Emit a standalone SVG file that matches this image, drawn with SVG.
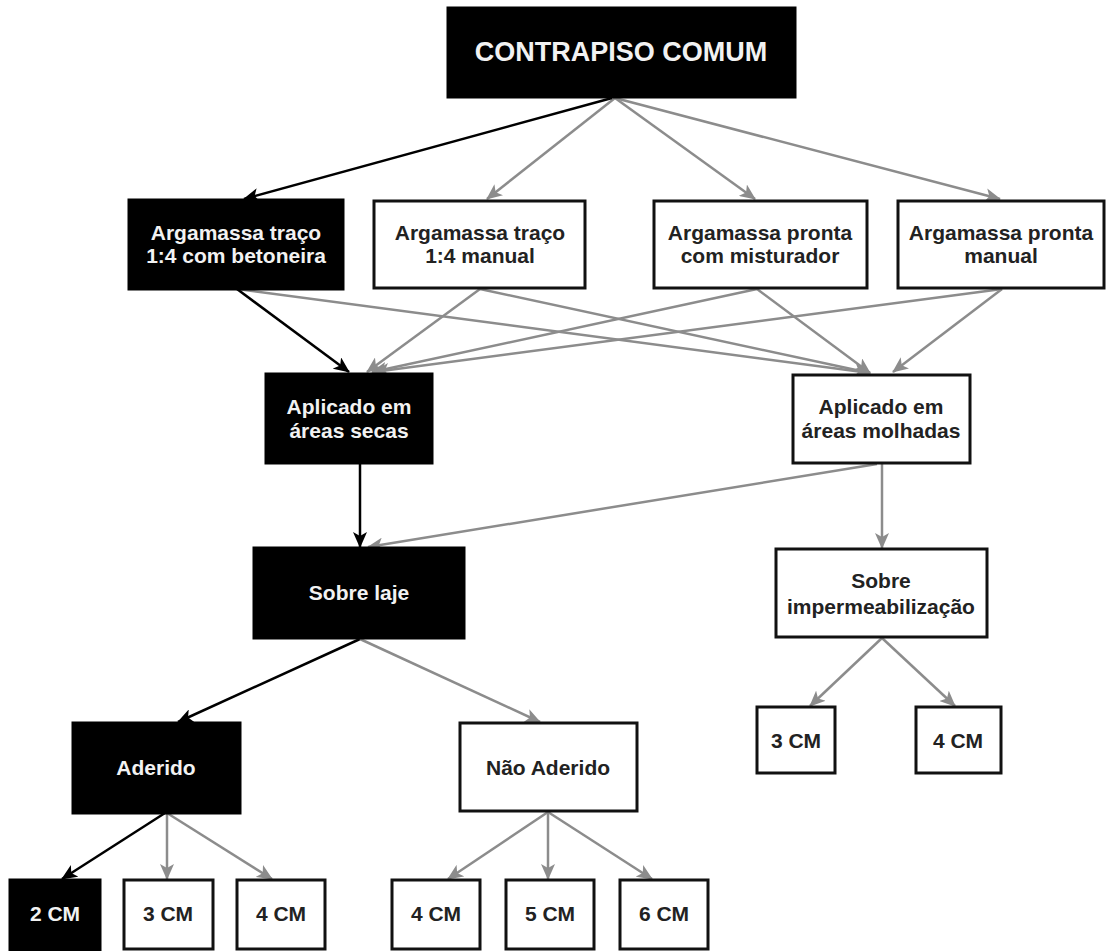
<svg xmlns="http://www.w3.org/2000/svg" width="1107" height="951" viewBox="0 0 1107 951">
<style>
.nb rect{fill:#000;stroke:#000;stroke-width:3}
.nw rect{fill:#fff;stroke:#111;stroke-width:3}
text{font-family:"Liberation Sans",Arial,sans-serif;font-weight:bold;font-size:21px;text-anchor:middle}
.nb text{fill:#f2f2f2}
.nw text{fill:#222}
.k{stroke:#000;stroke-width:2.5;fill:none;marker-end:url(#ak)}
.g{stroke:#8c8c8c;stroke-width:2.5;fill:none;marker-end:url(#ag)}
</style>
<defs>
<marker id="ak" markerUnits="userSpaceOnUse" viewBox="0 0 16 14" markerWidth="16" markerHeight="14" refX="15" refY="7" orient="auto"><path d="M0,0 L16,7 L0,14 L4,7 Z" fill="#000"/></marker>
<marker id="ag" markerUnits="userSpaceOnUse" viewBox="0 0 16 14" markerWidth="16" markerHeight="14" refX="15" refY="7" orient="auto"><path d="M0,0 L16,7 L0,14 L4,7 Z" fill="#8c8c8c"/></marker>
</defs>
<rect width="1107" height="951" fill="#fff"/>
<g id="connectors">
<line class="g" x1="615" y1="98" x2="487" y2="199"/>
<line class="g" x1="615" y1="98" x2="755" y2="199"/>
<line class="g" x1="615" y1="98" x2="1000" y2="199"/>
<line class="k" x1="612" y1="98" x2="244" y2="199"/>
<line class="g" x1="237" y1="289" x2="870" y2="373"/>
<line class="g" x1="480" y1="289" x2="367" y2="372"/>
<line class="g" x1="480" y1="289" x2="870" y2="373"/>
<line class="g" x1="757" y1="289" x2="372" y2="372"/>
<line class="g" x1="757" y1="289" x2="870" y2="373"/>
<line class="g" x1="1002" y1="289" x2="374" y2="372"/>
<line class="g" x1="1002" y1="289" x2="893" y2="372"/>
<line class="k" x1="237" y1="289" x2="349" y2="372"/>
<line class="k" x1="360" y1="464" x2="360" y2="547"/>
<line class="g" x1="877" y1="464" x2="368" y2="547"/>
<line class="g" x1="882" y1="464" x2="882" y2="548"/>
<line class="k" x1="360" y1="639" x2="178" y2="722"/>
<line class="g" x1="360" y1="639" x2="540" y2="722"/>
<line class="g" x1="882" y1="638" x2="810" y2="706"/>
<line class="g" x1="882" y1="638" x2="955" y2="706"/>
<line class="k" x1="165" y1="813" x2="62" y2="879"/>
<line class="g" x1="167" y1="813" x2="167" y2="879"/>
<line class="g" x1="167" y1="813" x2="272" y2="879"/>
<line class="g" x1="548" y1="812" x2="448" y2="879"/>
<line class="g" x1="548" y1="812" x2="548" y2="879"/>
<line class="g" x1="548" y1="812" x2="652" y2="879"/>
</g>
<g id="n-contrapiso" class="nb"><rect x="448" y="8" width="347" height="89"/><text x="621" y="61" style="font-size:27px">CONTRAPISO COMUM</text></g>
<g id="n-betoneira" class="nb"><rect x="129" y="200" width="214" height="89"/><text x="236" y="240">Argamassa traço</text><text x="236" y="263">1:4 com betoneira</text></g>
<g id="n-tracomanual" class="nw"><rect x="374" y="201" width="211" height="87"/><text x="480" y="240">Argamassa traço</text><text x="480" y="263">1:4 manual</text></g>
<g id="n-misturador" class="nw"><rect x="654" y="201" width="213" height="87"/><text x="760" y="240">Argamassa pronta</text><text x="760" y="263">com misturador</text></g>
<g id="n-prontamanual" class="nw"><rect x="898" y="201" width="206" height="87"/><text x="1001" y="240">Argamassa pronta</text><text x="1001" y="263">manual</text></g>
<g id="n-secas" class="nb"><rect x="266" y="374" width="166" height="89"/><text x="349" y="414">Aplicado em</text><text x="349" y="438">áreas secas</text></g>
<g id="n-molhadas" class="nw"><rect x="793" y="375" width="177" height="88"/><text x="881" y="414">Aplicado em</text><text x="881" y="438">áreas molhadas</text></g>
<g id="n-laje" class="nb"><rect x="254" y="548" width="210" height="90"/><text x="359" y="600">Sobre laje</text></g>
<g id="n-imperm" class="nw"><rect x="776" y="549" width="211" height="88"/><text x="881" y="588">Sobre</text><text x="881" y="614">impermeabilização</text></g>
<g id="n-aderido" class="nb"><rect x="73" y="723" width="167" height="90"/><text x="156" y="775">Aderido</text></g>
<g id="n-naoaderido" class="nw"><rect x="460" y="723" width="177" height="88"/><text x="548" y="775">Não Aderido</text></g>
<g id="n-imp3" class="nw"><rect x="757" y="707" width="78" height="66"/><text x="796" y="748">3 CM</text></g>
<g id="n-imp4" class="nw"><rect x="916" y="707" width="85" height="66"/><text x="958" y="748">4 CM</text></g>
<g id="n-ad2" class="nb"><rect x="10" y="880" width="90" height="75"/><text x="55" y="921">2 CM</text></g>
<g id="n-ad3" class="nw"><rect x="124" y="880" width="89" height="69"/><text x="168" y="921">3 CM</text></g>
<g id="n-ad4" class="nw"><rect x="237" y="880" width="88" height="69"/><text x="281" y="921">4 CM</text></g>
<g id="n-na4" class="nw"><rect x="392" y="880" width="88" height="69"/><text x="436" y="921">4 CM</text></g>
<g id="n-na5" class="nw"><rect x="506" y="880" width="88" height="69"/><text x="550" y="921">5 CM</text></g>
<g id="n-na6" class="nw"><rect x="620" y="880" width="88" height="69"/><text x="664" y="921">6 CM</text></g>
</svg>
